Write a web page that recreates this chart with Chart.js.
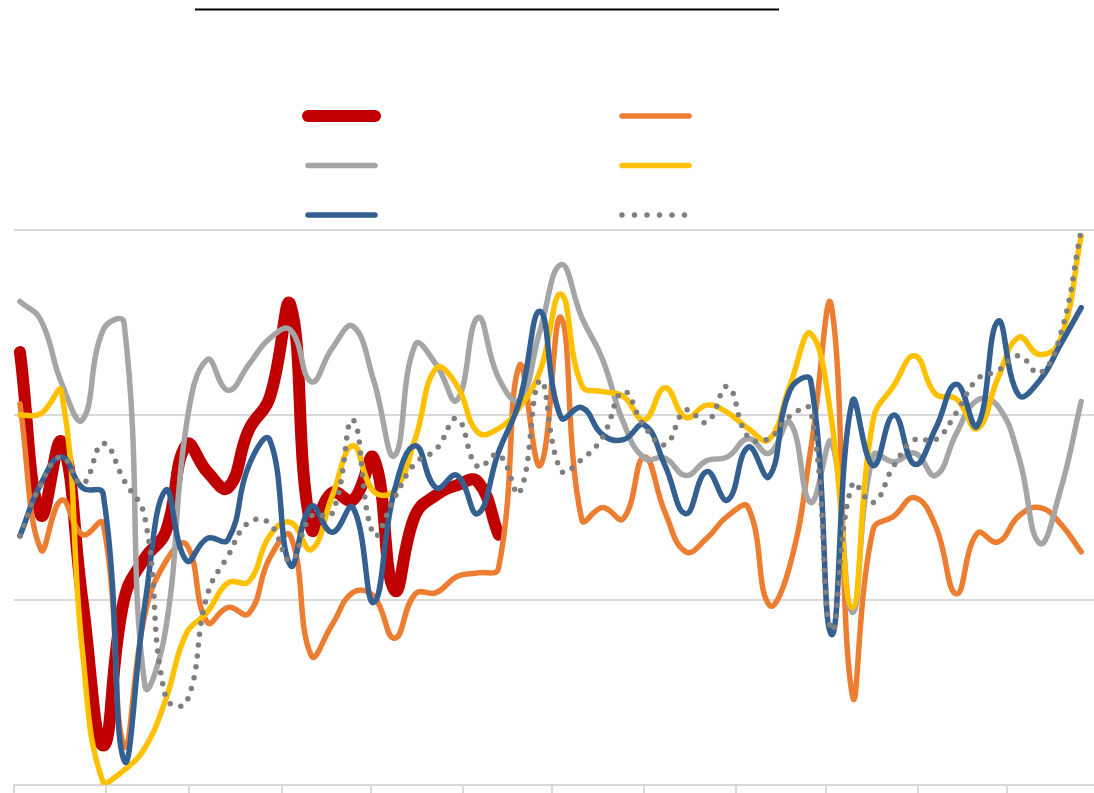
<!DOCTYPE html>
<html>
<head>
<meta charset="utf-8">
<script src="https://cdn.jsdelivr.net/npm/chart.js@4"></script>
<style>
  html, body { margin: 0; padding: 0; background: #fff; }
</style>
</head>
<body>
<canvas id="chart" width="1094" height="793"></canvas>
<script>
// weekly observations, day of year
const weekDays = [2, 9, 16, 23, 30, 37, 44, 51, 58, 65, 72, 79, 86, 93, 100, 107, 114, 121, 128, 135,
    142, 149, 156, 163, 170, 177, 184, 191, 198, 205, 212, 219, 226, 233, 240, 247, 254, 261, 268, 275,
    282, 289, 296, 303, 310, 317, 324, 331, 338, 345, 352, 359];
// month boundaries for the tick marks
const monthStarts = [0, 31, 59, 90, 120, 151, 181, 212, 243, 273, 304, 334];

const redValues = [5.1, -8.1, -2.2, -15.0, -26.8, -15.0, -11.6, -9.5, -2.4, -4.6, -5.9, -1.2, 1.4, 8.9,
    -9.2, -6.3, -6.9, -3.5, -14.2, -8.1, -6.5, -5.7, -5.4, -9.7,
    null, null, null, null, null, null, null, null, null, null, null, null, null, null,
    null, null, null, null, null, null, null, null, null, null, null, null, null, null];
const orangeValues = [0.9, -10.9, -6.9, -9.7, -8.8, -26.8, -16.2, -11.9, -10.5, -16.8, -15.6, -16.1, -11.6,
    -9.8, -19.5, -17.0, -14.4, -14.7, -18.1, -14.5, -14.4, -13.1, -12.8, -12.4, 4.0, -4.1, 7.9, -8.5, -7.5,
    -8.4, -3.4, -7.9, -11.1, -10.0, -8.2, -7.5, -15.4, -12.2, -2.8, 8.8, -22.7, -9.3, -8.2, -6.7, -9.0,
    -14.5, -9.6, -10.3, -8.2, -7.5, -8.8, -11.1];
const grayValues = [9.2, 7.7, 2.6, -0.4, 6.9, 7.5, -21.9, -17.4, -0.8, 4.5, 2.0, 4.1, 6.2, 6.9, 2.7, 5.4,
    7.2, 2.8, -3.3, 5.7, 4.1, 1.2, 7.9, 3.0, 1.2, 6.9, 12.2, 7.9, 4.5, -0.6, -3.5, -3.5, -4.9, -3.7, -3.4,
    -1.9, -3.1, -0.6, -7.1, -2.2, -16.0, -3.3, -3.8, -3.1, -4.9, -1.5, 1.2, 0.7, -3.4, -10.4, -6.1, 1.1];
const yellowValues = [0.0, 0.1, 1.9, -19.1, -29.8, -28.8, -27.0, -23.1, -17.7, -16.0, -13.6, -13.5, -9.8,
    -8.7, -10.9, -6.6, -2.5, -6.2, -6.1, -1.9, 3.8, 2.4, -1.4, -1.1, 0.6, 3.6, 9.8, 2.4, 1.9, 1.5, -0.4, 2.2,
    -0.2, 0.8, 0.2, -1.1, -2.0, 2.4, 6.6, -0.4, -15.6, -0.4, 2.4, 4.8, 1.7, 1.3, -1.1, 3.0, 6.3, 4.9, 6.1, 14.5];
const blueValues = [-9.8, -5.6, -3.4, -5.9, -6.4, -28.0, -15.4, -6.1, -11.8, -10.0, -10.1, -4.1, -2.0, -12.2,
    -7.4, -9.5, -7.5, -15.2, -6.1, -2.5, -5.9, -4.9, -8.0, -3.0, 1.1, 8.4, -0.2, 0.6, -1.6, -2.0, -0.8, -4.1,
    -8.0, -4.6, -6.9, -2.6, -5.0, 2.0, 2.8, -17.8, 1.1, -4.1, 0.0, -4.0, -1.1, 2.5, -0.9, 7.6, 1.6, 2.8, 5.7, 8.7];
const dottedValues = [-9.8, -5.6, -3.4, -5.6, -2.3, -5.3, -8.3, -22.9, -23.3, -14.6, -11.4, -8.7, -8.8, -11.8,
    -8.2, -8.0, -0.4, -9.7, -6.7, -3.9, -2.8, -0.3, -4.2, -3.2, -6.3, 2.8, -4.5, -3.6, -1.8, 1.9, -0.9, -2.4,
    0.4, -0.6, 2.3, -1.8, -1.9, -0.1, 0.4, -17.4, -5.6, -7.1, -4.1, -2.0, -2.0, 0.2, 2.9, 3.6, 4.8, 3.4, 6.5, 15.0];

function toPoints(values) {
    return values.map((v, i) => ({ x: weekDays[i], y: v }));
}

function line(values, color, width, order, extra) {
    return Object.assign({
        data: toPoints(values),
        borderColor: color,
        borderWidth: width,
        borderCapStyle: 'round',
        borderJoinStyle: 'round',
        pointRadius: 0,
        tension: 0.45,
        fill: false,
        spanGaps: false,
        order: order
    }, extra || {});
}

// legend without text, two columns, plus the rule at the top
const lineLegend = {
    id: 'lineLegend',
    afterDraw(chart) {
        const c = chart.ctx;
        c.save();
        c.strokeStyle = '#000';
        c.lineWidth = 2;
        c.beginPath();
        c.moveTo(195, 9.5);
        c.lineTo(779, 9.5);
        c.stroke();

        chart.data.datasets.forEach((ds, i) => {
            const x = i % 2 === 0 ? 308 : 622;
            const y = 116 + Math.floor(i / 2) * 49.5;
            c.strokeStyle = ds.borderColor;
            c.lineWidth = ds.borderWidth;
            c.lineCap = 'round';
            c.setLineDash(ds.legendDash || []);
            c.beginPath();
            c.moveTo(x, y);
            c.lineTo(x + 67, y);
            c.stroke();
        });
        c.restore();
    }
};

const ctx = document.getElementById('chart').getContext('2d');
const chart = new Chart(ctx, {
    type: 'line',
    data: {
        datasets: [
            line(redValues, '#C00000', 12, 6),
            line(orangeValues, '#ED7D31', 5.5, 5),
            line(grayValues, '#A5A5A5', 5.5, 4),
            line(yellowValues, '#FFC000', 5.5, 3),
            line(blueValues, '#335F91', 5.5, 2),
            line(dottedValues, '#7F7F7F', 5.5, 1, { borderDash: [0, 11], legendDash: [0, 12.5] })
        ]
    },
    options: {
        responsive: false,
        animation: false,
        devicePixelRatio: 1,
        layout: { padding: { left: 14, right: 0, top: 230, bottom: 0 } },
        plugins: {
            legend: { display: false },
            tooltip: { enabled: false },
            title: { display: false }
        },
        scales: {
            x: {
                type: 'linear',
                min: 0,
                max: 363.3,
                afterBuildTicks: (scale) => {
                    scale.ticks = monthStarts.map(v => ({ value: v }));
                },
                afterFit: (scale) => { scale.height = 8; },
                ticks: { display: false },
                grid: {
                    drawOnChartArea: false,
                    drawTicks: true,
                    tickLength: 8,
                    color: '#D9D9D9',
                    lineWidth: 2
                },
                border: { display: true, color: '#D9D9D9', width: 2 }
            },
            y: {
                min: -30,
                max: 15,
                ticks: { display: false, stepSize: 15 },
                afterFit: (scale) => { scale.width = 0; },
                grid: { color: '#D9D9D9', lineWidth: 2, drawTicks: false },
                border: { display: false }
            }
        }
    },
    plugins: [lineLegend]
});
</script>
</body>
</html>
